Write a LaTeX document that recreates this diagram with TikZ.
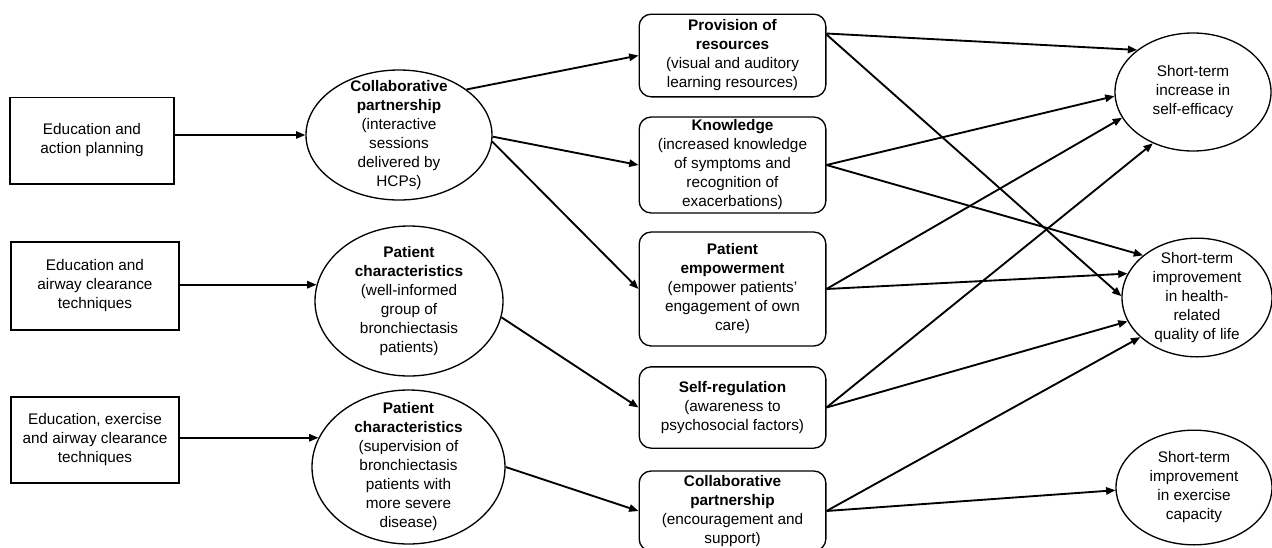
\documentclass[tikz,border=0pt]{standalone}
\usepackage{fontspec}
\setmainfont{Liberation Sans}
\usetikzlibrary{shapes.geometric,arrows.meta,calc}
\tikzset{
  box/.style={draw, line width=1pt, align=center, inner sep=2pt},
  rbox/.style={box, rounded corners=9pt},
  oval/.style={draw, ellipse, line width=1pt, inner sep=0pt},
  ovaltext/.style={align=center},
  arr/.style={line width=1.4pt, -{Triangle[length=7pt,width=5.5pt]}},
}
\begin{document}
\begin{tikzpicture}[x=0.75pt,y=-0.75pt,
  every node/.append style={font=\fontsize{11.5}{14.25}\selectfont}]
\useasboundingbox (0,0) rectangle (1272,547);

% left boxes
\node[box, minimum width=123pt, minimum height=65pt] (L1) at (92,140.5) {Education and\\action planning};
\node[box, minimum width=126pt, minimum height=66pt] (L2) at (95,286) {Education and\\airway clearance\\techniques};
\node[box, minimum width=126pt, minimum height=64.5pt] (L3) at (95,440) {Education, exercise\\and airway clearance\\techniques};

% left ellipses
\node[oval, minimum width=139.5pt, minimum height=97.5pt,
  label={[ovaltext]center:{\textbf{Collaborative}\\\textbf{partnership}\\(interactive\\sessions\\delivered by\\HCPs)}}] (E1) at (399,135) {};
\node[oval, minimum width=141pt, minimum height=112.5pt,
  label={[ovaltext]center:{\textbf{Patient}\\\textbf{characteristics}\\(well-informed\\group of\\bronchiectasis\\patients)}}] (E2) at (409,301) {};
\node[oval, minimum width=144.75pt, minimum height=115.5pt,
  label={[ovaltext]center:{\textbf{Patient}\\\textbf{characteristics}\\(supervision of\\bronchiectasis\\patients with\\more severe\\disease)}}] (E3) at (408.5,467) {};

% middle rounded boxes
\node[rbox, minimum width=140pt, minimum height=62pt] (A) at (732.5,55.5) {\textbf{Provision of}\\\textbf{resources}\\(visual and auditory\\learning resources)};
\node[rbox, minimum width=140pt, minimum height=72pt] (B) at (732.5,165) {\textbf{Knowledge}\\(increased knowledge\\of symptoms and\\recognition of\\exacerbations)};
\node[rbox, minimum width=140pt, minimum height=85.5pt] (C) at (732.5,289) {\textbf{Patient}\\\textbf{empowerment}\\(empower patients'\\engagement of own\\care)};
\node[rbox, minimum width=140pt, minimum height=61pt] (D) at (732.5,407.5) {\textbf{Self-regulation}\\(awareness to\\psychosocial factors)};
\node[rbox, minimum width=140pt, minimum height=60pt] (E) at (732.5,511) {\textbf{Collaborative}\\\textbf{partnership}\\(encouragement and\\support)};

% right ellipses
\node[oval, minimum width=117pt, minimum height=88.5pt,
  label={[ovaltext]center:{Short-term\\increase in\\self-efficacy}}] (R1) at (1193,92) {};
\node[oval, minimum width=112.5pt, minimum height=89pt,
  label={[ovaltext]center:{Short-term\\improvement\\in health-\\related\\quality of life}}] (R2) at (1197,297.5) {};
\node[oval, minimum width=117pt, minimum height=86pt,
  label={[ovaltext]center:{Short-term\\improvement\\in exercise\\capacity}}] (R3) at (1194,487.5) {};

% connectors: left boxes -> ellipses
\draw[arr] (L1.east |- E1.west) -- (E1.west);
\draw[arr] (L2.east |- E2.170) -- (E2.170);
\draw[arr] (L3.east |- E3.162.5) -- (E3.162.5);

% ellipses -> middle boxes
\draw[arr] (E1.34) -- (A.west);
\draw[arr] (E1.359) -- (B.west);
\draw[arr] (E1.356) -- (C.west);
\draw[arr] (E2.350) -- (D.west);
\draw[arr] (E3.east) -- (E.west);

% middle boxes -> outcomes
\draw[arr] ($(A.east)+(0,-22)$) -- (R1.143);
\draw[arr] ($(A.east)+(0,-21)$) -- (R2.179);
\draw[arr] (B.east) -- (R1.183);
\draw[arr] (B.east) -- (R2.142);
\draw[arr] (C.east) -- (R1.200);
\draw[arr] (C.east) -- (R2.161);
\draw[arr] (D.east) -- (R1.232);
\draw[arr] (D.east) -- (R2.199);
\draw[arr] (E.east) -- (R2.215);
\draw[arr] (E.east) -- (R3.182);
\end{tikzpicture}
\end{document}
